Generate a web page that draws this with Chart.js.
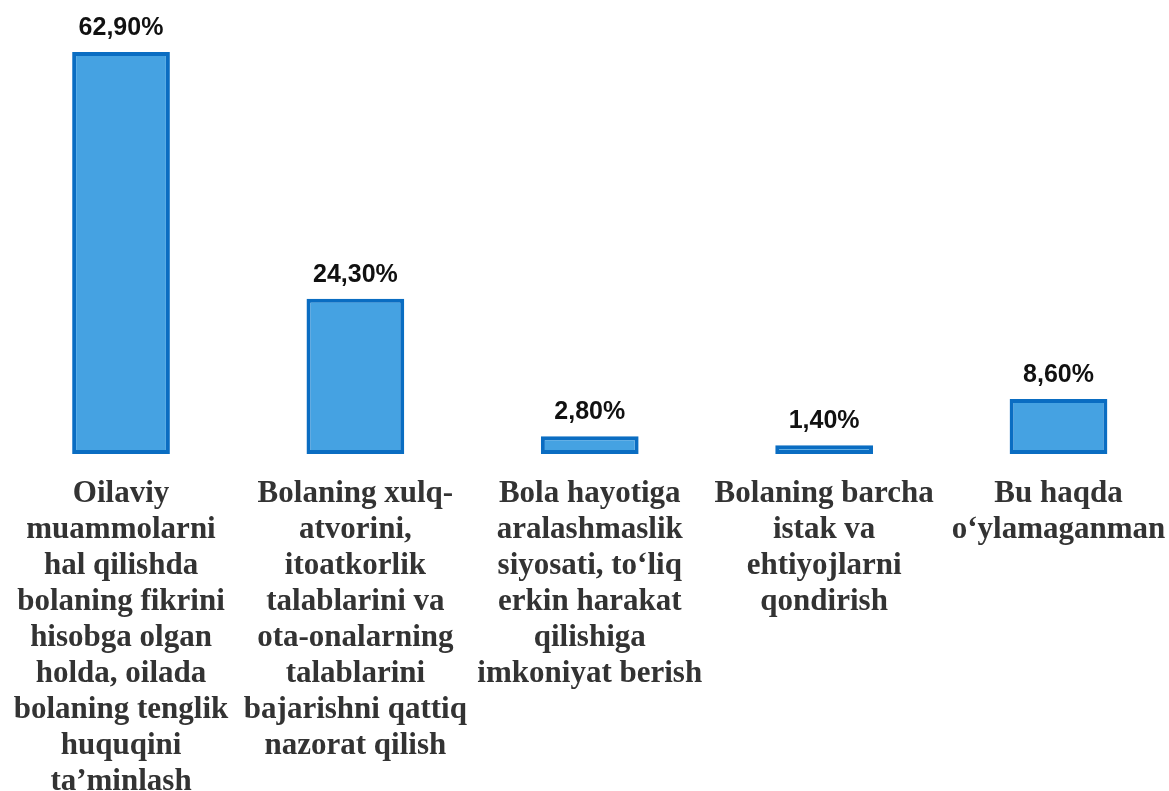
<!DOCTYPE html>
<html>
<head>
<meta charset="utf-8">
<script src="https://cdn.jsdelivr.net/npm/chart.js@4/dist/chart.umd.min.js"></script>
<style>
  html, body { margin: 0; padding: 0; background: #fff; overflow: hidden; }
  #wrap { margin-left: 0; }
</style>
</head>
<body>
<div id="wrap"><canvas id="myChart" width="1179" height="814"></canvas></div>
<script>
let categories = [
  ["Oilaviy", "muammolarni", "hal qilishda", "bolaning fikrini", "hisobga olgan", "holda, oilada", "bolaning tenglik", "huquqini", "ta’minlash"],
  ["Bolaning xulq-", "atvorini,", "itoatkorlik", "talablarini va", "ota-onalarning", "talablarini", "bajarishni qattiq", "nazorat qilish"],
  ["Bola hayotiga", "aralashmaslik", "siyosati, to‘liq", "erkin harakat", "qilishiga", "imkoniyat berish"],
  ["Bolaning barcha", "istak va", "ehtiyojlarni", "qondirish"],
  ["Bu haqda", "o‘ylamaganman"],
];
let percents = [62.9, 24.3, 2.8, 1.4, 8.6];

// writes the percentage above every bar
const valueLabels = {
  id: "valueLabels",
  afterDatasetsDraw(chart) {
    const ctx = chart.ctx;
    const meta = chart.getDatasetMeta(0);
    ctx.save();
    ctx.font = "bold 25px 'Liberation Sans', Arial, sans-serif";
    ctx.fillStyle = "#111";
    ctx.textAlign = "center";
    ctx.textBaseline = "alphabetic";
    meta.data.forEach((bar, i) => {
      let txt = percents[i].toFixed(2).replace(".", ",") + "%";
      ctx.fillText(txt, bar.x, bar.y - 17);
    });
    ctx.restore();
  },
};

let chart = new Chart(document.getElementById("myChart"), {
  type: "bar",
  data: {
    labels: categories,
    datasets: [
      {
        data: percents,
        backgroundColor: "#45A2E2",
        borderColor: "#0A6DC2",
        borderWidth: 4,
        borderSkipped: false,
        barPercentage: 0.417,
        categoryPercentage: 1,
      },
    ],
  },
  options: {
    responsive: false,
    animation: false,
    layout: { padding: { top: 52, left: 1, right: 0, bottom: 0 } },
    plugins: { legend: { display: false }, tooltip: { enabled: false } },
    scales: {
      y: { display: false, min: 0, max: 62.9 },
      x: {
        grid: { display: false },
        border: { display: false },
        ticks: {
          autoSkip: false,
          maxRotation: 0,
          minRotation: 0,
          padding: 14,
          color: "#333",
          font: { family: "'Liberation Serif', 'Times New Roman', serif", size: 31, weight: "bold", lineHeight: 1.161 },
        },
      },
    },
  },
  plugins: [valueLabels],
});
</script>
</body>
</html>
